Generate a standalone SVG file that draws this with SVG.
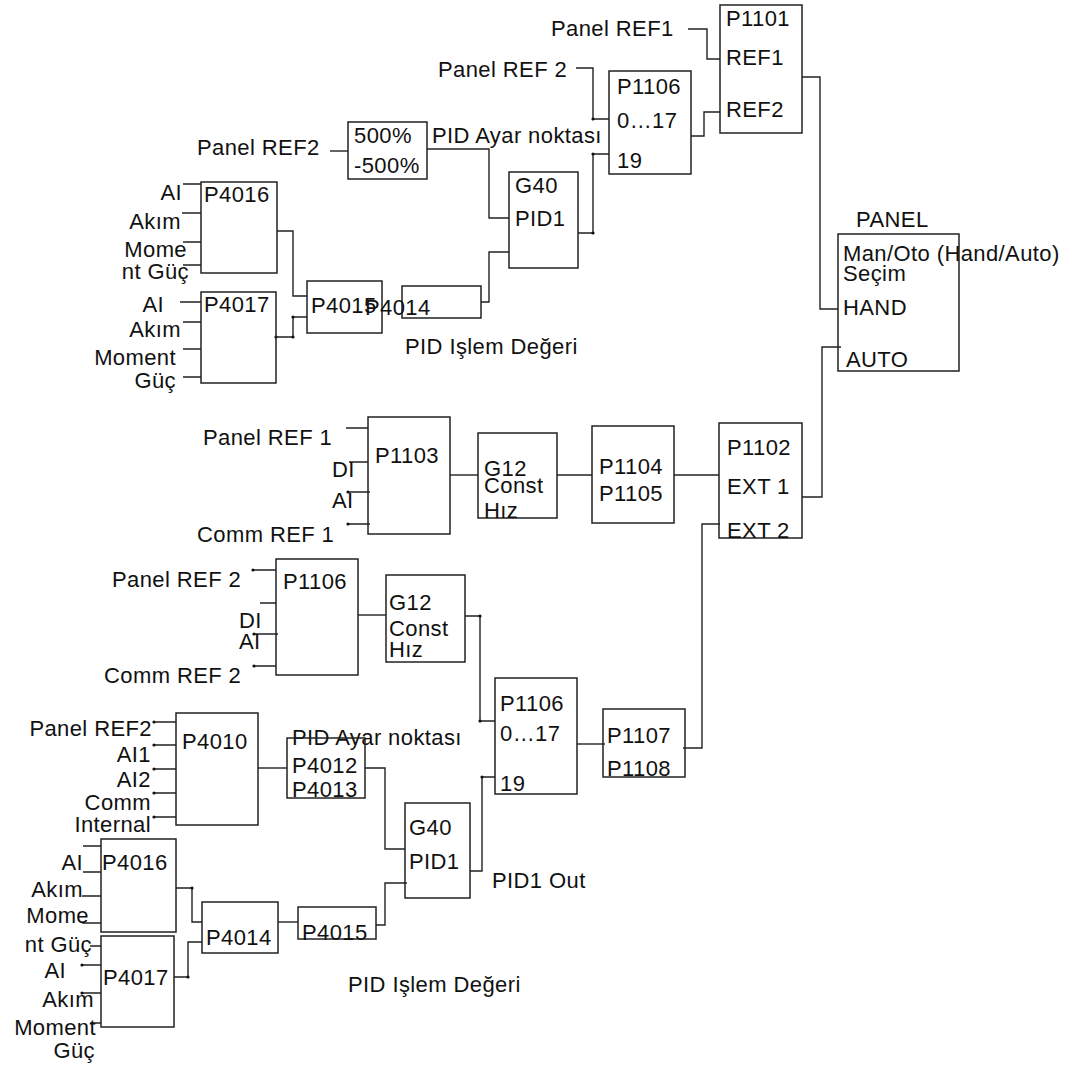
<svg xmlns="http://www.w3.org/2000/svg" width="1082" height="1067" viewBox="0 0 1082 1067">
<style>
rect.b{fill:none;stroke:#222;stroke-width:1.5}
.c path{fill:none;stroke:#222;stroke-width:1.4}
.c circle{fill:#111}
text{font-family:"Liberation Sans",Arial,sans-serif;font-size:22px;fill:#111;letter-spacing:0.4px}
text.e{text-anchor:end}
</style>
<rect width="1082" height="1067" fill="#fff"/>
<g class="c" id="connectors">
<path d="M688,29 H707 V59 H720"/>
<path d="M576,68 H593 V119 H609"/>
<path d="M578,233 H593 V154 H609"/>
<path d="M691,136 H704 V112 H720"/>
<path d="M802,77 H820 V309 H838"/>
<path d="M330,151 H348"/>
<path d="M427,149 H489 V218 H509"/>
<path d="M481,302 H489 V252 H509"/>
<path d="M277,231 H293 V296 H307"/>
<path d="M276,337 H293 V317 H307"/>
<path d="M183,184 H201 M182,213 H201 M183,242 H201 M183,265 H201"/>
<path d="M180,302 H201 M183,322 H201 M183,349 H201 M183,377 H201"/>
<path d="M346,428 H368 M349,462 H368 M348,492 H370 M348,524 H370"/>
<path d="M450,475 H478"/>
<path d="M557,475 H592"/>
<path d="M674,475 H719"/>
<path d="M802,497 H822 V347 H841"/>
<path d="M683,748 H702 V524 H720"/>
<path d="M253,570 H276 M260,603 H276 M254,634 H278 M254,666 H276"/>
<path d="M358,615 H386"/>
<path d="M465,616 H480 V721 H495"/>
<path d="M577,744 H605"/>
<path d="M470,871 H482 V777 H495"/>
<path d="M154,722 H176 M154,745 H176 M154,769 H176 M154,793 H176 M154,817 H176"/>
<path d="M258,768 H287"/>
<path d="M365,768 H385 V849 H405"/>
<path d="M376,925 H385 V883 H407"/>
<path d="M176,888 H192 V922 H202"/>
<path d="M174,977 H188 V942 H202"/>
<path d="M278,922 H298"/>
<path d="M83,846 H101 M83,872 H101 M82,896 H101 M82,923 H101"/>
<path d="M90,946 H101 M82,965 H101 M82,993 H101 M90,1023 H101"/>
<circle cx="593" cy="119" r="1.6"/><circle cx="593" cy="154" r="1.6"/><circle cx="593" cy="233" r="1.6"/>
<circle cx="293" cy="317" r="1.6"/><circle cx="293" cy="337" r="1.6"/><circle cx="276" cy="337" r="1.6"/>
<circle cx="348" cy="492" r="1.6"/><circle cx="348" cy="524" r="1.6"/>
<circle cx="253" cy="570" r="1.6"/><circle cx="254" cy="634" r="1.6"/><circle cx="254" cy="666" r="1.6"/>
<circle cx="480" cy="616" r="1.6"/><circle cx="480" cy="721" r="1.6"/><circle cx="482" cy="777" r="1.6"/>
<circle cx="154" cy="722" r="1.6"/><circle cx="154" cy="745" r="1.6"/><circle cx="154" cy="769" r="1.6"/><circle cx="154" cy="793" r="1.6"/><circle cx="154" cy="817" r="1.6"/>
<circle cx="82" cy="965" r="1.6"/><circle cx="82" cy="993" r="1.6"/><circle cx="188" cy="977" r="1.6"/><circle cx="192" cy="888" r="1.6"/>
</g>
<g id="labels">
<text x="551" y="36">Panel REF1</text>
<text x="438" y="77">Panel REF 2</text>
<text x="432" y="143">PID Ayar noktası</text>
<text x="197" y="155">Panel REF2</text>
<text class="e" x="182" y="200">AI</text>
<text class="e" x="181" y="229">Akım</text>
<text class="e" x="187" y="257">Mome</text>
<text class="e" x="189" y="279">nt Güç</text>
<text class="e" x="164" y="312">AI</text>
<text class="e" x="181" y="337">Akım</text>
<text class="e" x="176" y="365">Moment</text>
<text class="e" x="176" y="388">Güç</text>
<text x="405" y="354">PID Işlem Değeri</text>
<text x="203" y="445">Panel REF 1</text>
<text x="332" y="477">DI</text>
<text x="332" y="508">AI</text>
<text x="197" y="542">Comm REF 1</text>
<text x="112" y="587">Panel REF 2</text>
<text x="239" y="628">DI</text>
<text x="239" y="649">AI</text>
<text x="104" y="683">Comm REF 2</text>
<text class="e" x="152" y="736">Panel REF2</text>
<text class="e" x="151" y="762">AI1</text>
<text class="e" x="151" y="787">AI2</text>
<text class="e" x="151" y="810">Comm</text>
<text class="e" x="151" y="832">Internal</text>
<text x="292" y="745">PID Ayar noktası</text>
<text x="492" y="888">PID1 Out</text>
<text class="e" x="83" y="870">AI</text>
<text class="e" x="83" y="897">Akım</text>
<text class="e" x="89" y="923">Mome</text>
<text class="e" x="92" y="952">nt Güç</text>
<text class="e" x="66" y="978">AI</text>
<text class="e" x="94" y="1007">Akım</text>
<text class="e" x="96" y="1035">Moment</text>
<text class="e" x="95" y="1058">Güç</text>
<text x="348" y="992">PID Işlem Değeri</text>
</g>
<g id="P1101"><rect class="b" x="720" y="5" width="82" height="128"/><text x="726" y="26">P1101</text><text x="726" y="65">REF1</text><text x="726" y="117">REF2</text></g>
<g id="P1106-top"><rect class="b" x="609" y="71" width="82" height="103"/><text x="617" y="94">P1106</text><text x="617" y="128">0…17</text><text x="617" y="168">19</text></g>
<g id="scale"><rect class="b" x="348" y="122" width="79" height="57"/><text x="354" y="143">500%</text><text x="354" y="173">-500%</text></g>
<g id="G40-top"><rect class="b" x="509" y="172" width="69" height="96"/><text x="515" y="193">G40</text><text x="515" y="226">PID1</text></g>
<g id="P4016-top"><rect class="b" x="201" y="182" width="76" height="91"/><text x="204" y="202">P4016</text></g>
<g id="P4017-top"><rect class="b" x="201" y="292" width="75" height="91"/><text x="204" y="312">P4017</text></g>
<g id="P4015-top"><rect class="b" x="307" y="281" width="75" height="52"/><text x="311" y="313">P4015</text></g>
<g id="P4014-top"><rect class="b" x="402" y="286" width="79" height="32"/><text x="365" y="315">P4014</text></g>
<g id="PANEL"><rect class="b" x="838" y="234" width="121" height="137"/><text x="856" y="227">PANEL</text><text x="843" y="261">Man/Oto (Hand/Auto)</text><text x="843" y="281">Seçim</text><text x="843" y="315">HAND</text><text x="846" y="367">AUTO</text></g>
<g id="P1103"><rect class="b" x="368" y="417" width="82" height="117"/><text x="375" y="463">P1103</text></g>
<g id="G12-top"><rect class="b" x="478" y="433" width="79" height="85"/><text x="484" y="476">G12</text><text x="484" y="493">Const</text><text x="484" y="518">Hız</text></g>
<g id="P1104"><rect class="b" x="592" y="426" width="82" height="97"/><text x="599" y="474">P1104</text><text x="599" y="501">P1105</text></g>
<g id="P1102"><rect class="b" x="719" y="423" width="83" height="115"/><text x="727" y="455">P1102</text><text x="727" y="494">EXT 1</text><text x="727" y="538">EXT 2</text></g>
<g id="P1106-mid"><rect class="b" x="276" y="559" width="82" height="116"/><text x="283" y="589">P1106</text></g>
<g id="G12-low"><rect class="b" x="386" y="575" width="79" height="87"/><text x="389" y="610">G12</text><text x="389" y="636">Const</text><text x="389" y="657">Hız</text></g>
<g id="P1106-low"><rect class="b" x="495" y="678" width="82" height="116"/><text x="500" y="711">P1106</text><text x="500" y="741">0…17</text><text x="500" y="791">19</text></g>
<g id="P1107"><rect class="b" x="603" y="709" width="82" height="68"/><text x="607" y="743">P1107</text><text x="607" y="776">P1108</text></g>
<g id="P4010"><rect class="b" x="176" y="713" width="82" height="112"/><text x="182" y="749">P4010</text></g>
<g id="P4012"><rect class="b" x="287" y="738" width="78" height="60"/><text x="292" y="773">P4012</text><text x="292" y="797">P4013</text></g>
<g id="G40-low"><rect class="b" x="405" y="803" width="65" height="95"/><text x="409" y="835">G40</text><text x="409" y="869">PID1</text></g>
<g id="P4016-low"><rect class="b" x="101" y="839" width="75" height="93"/><text x="102" y="870">P4016</text></g>
<g id="P4017-low"><rect class="b" x="101" y="936" width="73" height="91"/><text x="103" y="985">P4017</text></g>
<g id="P4014-low"><rect class="b" x="202" y="902" width="76" height="51"/><text x="206" y="945">P4014</text></g>
<g id="P4015-low"><rect class="b" x="298" y="907" width="78" height="32"/><text x="302" y="940">P4015</text></g>
</svg>
